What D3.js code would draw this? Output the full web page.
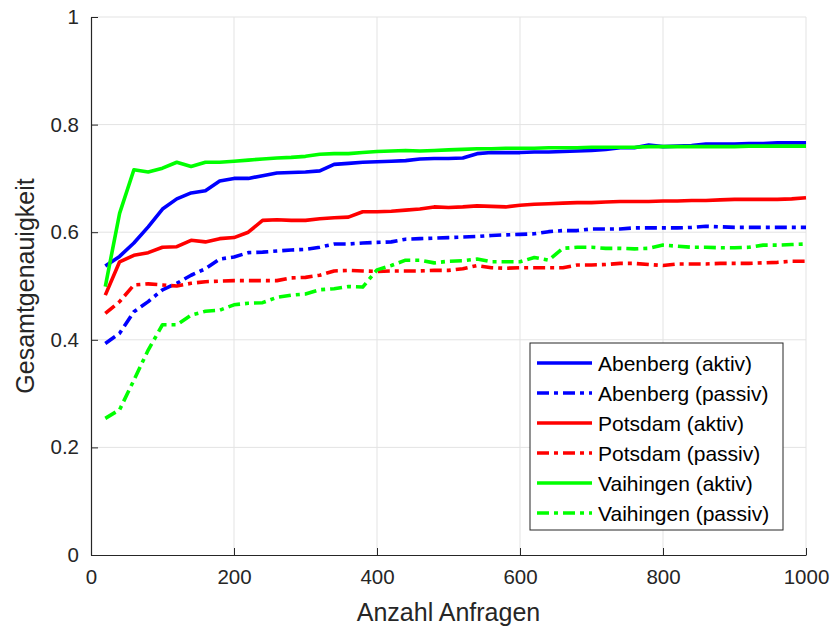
<!DOCTYPE html>
<html>
<head>
<meta charset="utf-8">
<script src="https://d3js.org/d3.v7.min.js"></script>
<style>
  html, body { margin: 0; padding: 0; background: #fff; }
  svg { display: block; font-family: "Liberation Sans", Arial, Helvetica, sans-serif; }
</style>
</head>
<body>
<svg id="chart" width="835" height="632"></svg>
<script>
// Number of queries (x values)
const anfragen = d3.range(20, 1001, 20);

// Overall accuracy per scene and learning mode
const abenbergAktiv = [0.537, 0.555, 0.580, 0.610, 0.643, 0.662, 0.673, 0.677, 0.695, 0.700,
  0.700, 0.705, 0.710, 0.711, 0.712, 0.714, 0.726, 0.728, 0.730, 0.731,
  0.732, 0.733, 0.736, 0.737, 0.737, 0.738, 0.746, 0.748, 0.748, 0.748,
  0.749, 0.749, 0.750, 0.751, 0.752, 0.754, 0.757, 0.757, 0.762, 0.759,
  0.760, 0.761, 0.764, 0.764, 0.764, 0.765, 0.765, 0.766, 0.766, 0.766];
const abenbergPassiv = [0.393, 0.412, 0.452, 0.471, 0.493, 0.505, 0.520, 0.532, 0.550, 0.554,
  0.562, 0.563, 0.565, 0.567, 0.568, 0.572, 0.578, 0.578, 0.580, 0.581,
  0.582, 0.587, 0.588, 0.589, 0.590, 0.591, 0.592, 0.594, 0.595, 0.596,
  0.597, 0.601, 0.603, 0.603, 0.606, 0.606, 0.606, 0.608, 0.608, 0.608,
  0.608, 0.609, 0.611, 0.610, 0.609, 0.609, 0.609, 0.609, 0.609, 0.609];
const potsdamAktiv = [0.483, 0.545, 0.557, 0.562, 0.572, 0.573, 0.585, 0.582, 0.588, 0.590,
  0.600, 0.622, 0.623, 0.622, 0.622, 0.625, 0.627, 0.628, 0.638, 0.638,
  0.639, 0.641, 0.643, 0.647, 0.646, 0.647, 0.649, 0.648, 0.647, 0.650,
  0.652, 0.653, 0.654, 0.655, 0.655, 0.656, 0.657, 0.657, 0.657, 0.658,
  0.658, 0.659, 0.659, 0.660, 0.661, 0.661, 0.661, 0.661, 0.662, 0.664];
const potsdamPassiv = [0.449, 0.471, 0.502, 0.504, 0.502, 0.500, 0.505, 0.508, 0.509, 0.510,
  0.510, 0.510, 0.510, 0.515, 0.516, 0.520, 0.528, 0.529, 0.528, 0.527,
  0.528, 0.528, 0.528, 0.529, 0.529, 0.532, 0.538, 0.534, 0.533, 0.534,
  0.534, 0.534, 0.534, 0.539, 0.539, 0.540, 0.542, 0.542, 0.540, 0.538,
  0.541, 0.541, 0.541, 0.542, 0.542, 0.542, 0.543, 0.544, 0.546, 0.546];
const vaihingenAktiv = [0.499, 0.635, 0.716, 0.712, 0.719, 0.730, 0.722, 0.730, 0.730, 0.732,
  0.734, 0.736, 0.738, 0.739, 0.741, 0.745, 0.746, 0.746, 0.748, 0.750,
  0.751, 0.752, 0.751, 0.752, 0.753, 0.754, 0.755, 0.755, 0.756, 0.756,
  0.756, 0.757, 0.757, 0.757, 0.758, 0.758, 0.758, 0.758, 0.759, 0.759,
  0.759, 0.759, 0.759, 0.759, 0.759, 0.760, 0.760, 0.760, 0.760, 0.760];
const vaihingenPassiv = [0.254, 0.270, 0.325, 0.381, 0.428, 0.428, 0.446, 0.453, 0.455, 0.465,
  0.468, 0.469, 0.479, 0.483, 0.485, 0.493, 0.495, 0.499, 0.498, 0.530,
  0.538, 0.548, 0.548, 0.543, 0.546, 0.547, 0.550, 0.545, 0.545, 0.545,
  0.553, 0.548, 0.570, 0.572, 0.572, 0.570, 0.570, 0.569, 0.570, 0.576,
  0.574, 0.572, 0.572, 0.571, 0.571, 0.572, 0.576, 0.576, 0.577, 0.578];

const seriesNames = ["Abenberg (aktiv)", "Abenberg (passiv)", "Potsdam (aktiv)",
  "Potsdam (passiv)", "Vaihingen (aktiv)", "Vaihingen (passiv)"];
const seriesValues = [abenbergAktiv, abenbergPassiv, potsdamAktiv, potsdamPassiv, vaihingenAktiv, vaihingenPassiv];

const xTicks = [0, 200, 400, 600, 800, 1000];
const yTicks = [0, 0.2, 0.4, 0.6, 0.8, 1];
const xTitle = "Anzahl Anfragen";
const yTitle = "Gesamtgenauigkeit";

// Styling per series
const colors = ["#0000ff", "#0000ff", "#ff0000", "#ff0000", "#00ff00", "#00ff00"];
const dashes = [null, "12,5,4,5", null, "12,5,4,5", null, "12,5,4,5"];

const svg = d3.select("#chart");
const margin = { left: 91, right: 29, top: 17, bottom: 77 };
const W = 835, H = 632;
const x = d3.scaleLinear().domain([0, 1000]).range([margin.left, W - margin.right]);
const y = d3.scaleLinear().domain([0, 1]).range([H - margin.bottom, margin.top]);

const axisColor = "#262626";
const gridColor = "#e3e3e3";

// Grid lines
const grid = svg.append("g");
grid.selectAll(".gx").data(xTicks.slice(1)).join("line")
  .attr("x1", d => x(d)).attr("x2", d => x(d))
  .attr("y1", y(0)).attr("y2", y(1))
  .attr("stroke", gridColor).attr("stroke-width", 1);
grid.selectAll(".gy").data(yTicks.slice(1)).join("line")
  .attr("x1", x(0)).attr("x2", x(1000))
  .attr("y1", d => y(d)).attr("y2", d => y(d))
  .attr("stroke", gridColor).attr("stroke-width", 1);

// Axes
const xAxis = d3.axisBottom(x).tickValues(xTicks).tickFormat(d3.format("d")).tickSizeInner(-7).tickSizeOuter(0).tickPadding(14);
const yAxis = d3.axisLeft(y).tickValues(yTicks).tickFormat(d => d === 0 || d === 1 ? String(d) : d3.format(".1f")(d)).tickSizeInner(-7).tickSizeOuter(0).tickPadding(12);

const gx = svg.append("g").attr("transform", `translate(0,${y(0)})`).call(xAxis);
const gy = svg.append("g").attr("transform", `translate(${x(0)},0)`).call(yAxis);
[gx, gy].forEach(g => {
  g.select(".domain").attr("stroke", axisColor).attr("stroke-width", 1.2);
  g.selectAll(".tick line").attr("stroke", axisColor).attr("stroke-width", 1);
  g.selectAll(".tick text").attr("fill", axisColor).style("font-size", "20.5px")
    .style("font-family", "'Liberation Sans', Arial, sans-serif");
});

// Data lines
const line = d3.line().x((d, i) => x(anfragen[i])).y(d => y(d));
const lines = svg.append("g");
seriesValues.forEach((vals, k) => {
  lines.append("path")
    .datum(vals)
    .attr("d", line)
    .attr("fill", "none")
    .attr("stroke", colors[k])
    .attr("stroke-width", 3.6)
    .attr("stroke-linejoin", "round")
    .attr("stroke-dasharray", dashes[k]);
});

// Axis titles
svg.append("text")
  .attr("x", (x(0) + x(1000)) / 2).attr("y", 621)
  .attr("text-anchor", "middle").attr("fill", axisColor)
  .style("font-size", "25px").text(xTitle);
svg.append("text")
  .attr("transform", `translate(34,${(y(0) + y(1)) / 2}) rotate(-90)`)
  .attr("text-anchor", "middle").attr("fill", axisColor)
  .style("font-size", "25px").text(yTitle);

// Legend
const lg = svg.append("g").attr("transform", "translate(530,343)");
lg.append("rect").attr("x", 0).attr("y", 0).attr("width", 253).attr("height", 187)
  .attr("fill", "#fff").attr("stroke", axisColor).attr("stroke-width", 1);
seriesNames.forEach((name, k) => {
  const yy = 20 + k * 30;
  lg.append("line").attr("x1", 7).attr("x2", 62).attr("y1", yy).attr("y2", yy)
    .attr("stroke", colors[k]).attr("stroke-width", 3.6)
    .attr("stroke-dasharray", dashes[k]);
  lg.append("text").attr("x", 68).attr("y", yy + 7.5)
    .attr("fill", "#000").style("font-size", "21px").text(name);
});
</script>
</body>
</html>
